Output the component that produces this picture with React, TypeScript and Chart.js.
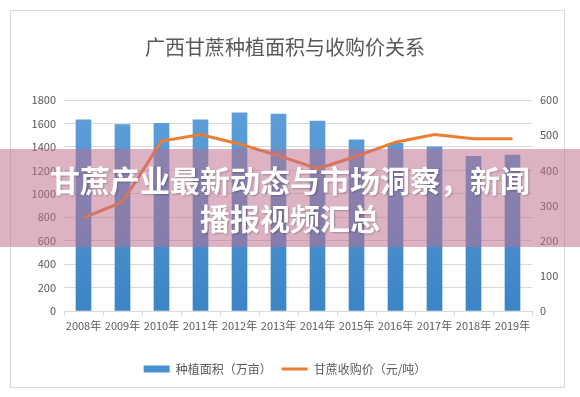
import React, { useEffect, useRef } from "react";
import { Chart, registerables } from "chart.js";

Chart.register(...registerables);

const years = ["2008年", "2009年", "2010年", "2011年", "2012年", "2013年", "2014年", "2015年", "2016年", "2017年", "2018年", "2019年"];
const plantingArea = [1630, 1590, 1600, 1630, 1690, 1680, 1620, 1460, 1430, 1400, 1320, 1330];
const purchasePrice = [265, 310, 483, 502, 475, 442, 405, 440, 480, 502, 490, 490];
const titleText = "广西甘蔗种植面积与收购价关系";
const areaLabel = "种植面积（万亩）";
const priceLabel = "甘蔗收购价（元/吨）";
const bannerText = "甘蔗产业最新动态与市场洞察，新闻播报视频汇总";

const FONT = '"Noto Sans CJK SC", "Noto Sans", sans-serif';

export default function App() {
  const ref = useRef<HTMLCanvasElement | null>(null);

  useEffect(() => {
    if (!ref.current) return;
    const chart = new Chart(ref.current, {
      type: "bar",
      data: {
        labels: years,
        datasets: [
          {
            type: "bar",
            label: areaLabel,
            data: plantingArea,
            yAxisID: "y",
            order: 1,
            barThickness: 15,
            backgroundColor: (ctx: any) => {
              const ca = ctx.chart.chartArea;
              if (!ca) return "#5b9bd5";
              const g = ctx.chart.ctx.createLinearGradient(0, ca.top, 0, ca.bottom);
              g.addColorStop(0, "#5fa0da");
              g.addColorStop(1, "#3b84c6");
              return g;
            },
            borderWidth: 0,
          },
          {
            type: "line",
            label: priceLabel,
            data: purchasePrice,
            yAxisID: "y1",
            order: 0,
            borderColor: "#ed7d31",
            backgroundColor: "#ed7d31",
            borderWidth: 3,
            pointRadius: 0,
            tension: 0,
            fill: false,
          },
        ],
      },
      options: {
        responsive: false,
        animation: false,
        layout: { padding: { left: 10, right: 20, top: 0, bottom: 12 } },
        plugins: {
          title: {
            display: true,
            text: titleText,
            color: "#595959",
            font: { family: FONT, size: 20, weight: "normal" },
            padding: { top: 35, bottom: 41 },
          },
          legend: {
            position: "bottom",
            labels: {
              usePointStyle: true,
              pointStyleWidth: 26,
              boxHeight: 7,
              color: "#595959",
              font: { family: FONT, size: 12 },
              padding: 10,
              sort: (a: any, b: any) => a.datasetIndex - b.datasetIndex,
              generateLabels: (chart: any) => {
                const items = Chart.defaults.plugins.legend.labels.generateLabels(chart);
                items.forEach((it: any) => {
                  if (it.datasetIndex === 0) {
                    it.pointStyle = "rect";
                    it.fillStyle = "#4a90d0";
                    it.strokeStyle = "#4a90d0";
                    it.lineWidth = 0;
                  } else {
                    it.pointStyle = "line";
                    it.strokeStyle = "#ed7d31";
                    it.lineWidth = 3;
                  }
                });
                return items;
              },
            },
          },
          tooltip: { enabled: false },
        },
        scales: {
          x: {
            offset: true,
            grid: { display: true, drawOnChartArea: false, drawTicks: true, tickLength: 5, color: "#d9d9d9", offset: true },
            border: { display: true, color: "#d9d9d9" },
            ticks: { color: "#595959", font: { family: FONT, size: 11 }, padding: 3, maxRotation: 0, autoSkip: false },
            afterFit: (axis: any) => { axis.height = 42; },
          },
          y: {
            position: "left",
            min: 0,
            max: 1800,
            ticks: { stepSize: 200, color: "#595959", font: { family: FONT, size: 11 }, padding: 8, callback: (v: any) => String(v) },
            grid: { color: "#d9d9d9", drawTicks: false },
            border: { display: false },
            afterFit: (axis: any) => { axis.width = 54; },
          },
          y1: {
            position: "right",
            min: 0,
            max: 600,
            ticks: { stepSize: 100, color: "#595959", font: { family: FONT, size: 11 }, padding: 8, callback: (v: any) => String(v) },
            grid: { display: false, drawTicks: false },
            border: { display: false },
            afterFit: (axis: any) => { axis.width = 28; },
          },
        },
      },
    });
    return () => chart.destroy();
  }, []);

  return (
    <div style={{ position: "fixed", left: 0, top: 0, width: 580, height: 397, background: "#fff", overflow: "hidden" }}>
      <div style={{ position: "absolute", left: 10, top: 10, width: 553, height: 376, border: "1px solid #d9d9d9" }} />
      <canvas ref={ref} width={580} height={397} style={{ position: "absolute", left: 0, top: 0, width: 580, height: 397 }} />
      <div
        style={{
          position: "absolute",
          left: 0,
          top: 149,
          width: 580,
          height: 98,
          background: "rgba(190,110,140,0.52)",
          display: "flex",
          alignItems: "center",
          justifyContent: "center",
          padding: "0 40px",
          boxSizing: "border-box",
        }}
      >
        <div
          style={{
            color: "#fff",
            fontFamily: FONT,
            fontWeight: 700,
            fontSize: 30,
            lineHeight: "38px",
            textAlign: "center",
            textShadow: "1px 1px 2px rgba(0,0,0,0.25)",
          }}
        >
          {bannerText}
        </div>
      </div>
    </div>
  );
}
